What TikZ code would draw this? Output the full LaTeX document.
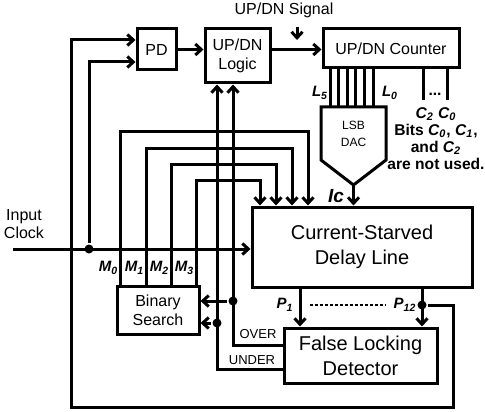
\documentclass[tikz,border=0pt]{standalone}
\usepackage{fontspec}
\setmainfont{Liberation Sans}
\usetikzlibrary{arrows.meta,positioning,calc}

\begin{document}
\begin{tikzpicture}[
    x=0.5pt, y=-0.5pt,
    >={Straight Barb[length=3pt,width=5.5pt]},
    line width=1.5pt,
    block/.style={rectangle, draw, line width=1.5pt, align=center, inner sep=0pt, font=\fontsize{8}{9.5}\selectfont},
    bigblock/.style={block, font=\fontsize{10}{12.5}\selectfont},
    wire/.style={line width=1.5pt},
    arrow/.style={->, line width=1.5pt},
    dot/.style={circle, fill, inner sep=0pt, minimum size=4.5pt},
    lab/.style={font=\fontsize{8}{9}\selectfont, align=center, inner sep=0pt},
    tap/.style={font=\fontsize{7.5}{9}\selectfont\bfseries\itshape, inner sep=0pt},
    small/.style={font=\fontsize{6.5}{7.5}\selectfont, inner sep=0pt},
    note/.style={font=\fontsize{7.8}{8.5}\selectfont\bfseries, align=center, inner sep=0pt},
]
\useasboundingbox (0,0) rectangle (485,411);

\node[block, minimum width=19.5pt, minimum height=20.5pt] (pd) at (156.5,49.5) {PD};
\node[block, minimum width=32.5pt, minimum height=27pt] (logic) at (237.5,56) {UP/DN\\Logic};
\node[block, minimum width=68pt, minimum height=19.5pt] (counter) at (391,48.5) {UP/DN Counter};
\node[bigblock, minimum width=110pt, minimum height=40pt] (delay) at (362,247) {Current-Starved\\Delay Line};
\node[block, minimum width=41pt, minimum height=24pt] (search) at (158,310) {Binary\\Search};
\node[bigblock, minimum width=76.5pt, minimum height=27.5pt] (fld) at (360.5,355.5) {False Locking\\Detector};

\node[lab, font=\fontsize{6}{8.5}\selectfont, outer sep=0pt, minimum width=32.5pt, minimum height=26.5pt] (dac) at (353.5,133.5) {LSB\\DAC};
\coordinate (dactip) at ($(dac.south)+(0,25)$);
\draw[wire] (dac.north west) -- (dac.south west) -- (dactip) -- (dac.south east) -- (dac.north east) -- cycle;

\node[lab] (signal) at (284,10) {UP/DN Signal};
\coordinate (sigarrow) at (297,27);
\draw[arrow] (sigarrow) -- ++(0,13);

\node[lab] (clklab) at (24,224) {Input\\Clock};
\coordinate (clkin) at (13,249);
\draw[arrow] (clkin) -- (clkin -| delay.west);
\node[dot] (clkdot) at (89,249) {};
\draw[arrow] (clkdot) |- ($(pd.west)+(0,12.5)$);

\draw[arrow] (pd.east) -- (pd.east -| logic.west);
\draw[arrow] (pd.east -| logic.east) -- (pd.east -| counter.west);

\foreach \x in {330,338.6,347.2,355.8,364.4,373}
    \draw[wire] (\x,0 |- counter.south) -- (\x,0 |- dac.north);
\node[tap] at (320,93) {L\textsubscript{5}};
\node[tap] at (390,93) {L\textsubscript{0}};

\coordinate (c2end) at (423,100);
\coordinate (c0end) at (447,100);
\draw[wire] (c2end |- counter.south) -- (c2end);
\draw[wire] (c0end |- counter.south) -- (c0end);
\node[note] at (435,94) {...};
\node[note] (unused) at (436,139) {\textit{C\textsubscript{2}} \textit{C\textsubscript{0}}\\Bits \textit{C\textsubscript{0}}, \textit{C\textsubscript{1}},\\and \textit{C\textsubscript{2}}\\are not used.};

\draw[arrow] (dactip) -- (dactip |- delay.north);
\node[tap, font=\fontsize{9.5}{10}\selectfont\bfseries\itshape] at (336,196) {Ic};

\foreach \x/\y/\t [count=\i from 0] in {120/132/308, 146/148/292, 171/164/276, 196/180/260} {
    \draw[arrow] (\x,0 |- search.north) |- (\t,\y) -- (\t,0 |- delay.north);
    \node[tap] at (\x-11.5,268) {M\textsubscript{\i}};
}

\node[dot] (p12dot) at (422,305) {};
\draw[arrow] (300,0 |- delay.south) -- (300,0 |- fld.north);
\draw[arrow] (p12dot |- delay.south) -- (p12dot |- fld.north);
\node[tap] (p1) at (285,305) {P\textsubscript{1}};
\node[tap] (p12) at (405,305) {P\textsubscript{12}};
\draw[line width=0.7pt, dash pattern=on 1.5pt off 1pt] ([xshift=7.5pt]p1.east) -- ([xshift=-3.5pt]p12.west);

\coordinate (loopr) at (453,407);
\coordinate (loopl) at (71,407);
\draw[arrow] (p12dot) -| (loopr) -- (loopl) |- ($(pd.west)+(0,-9.5)$);

\draw[arrow] ($(fld.west)+(0,-10.5)$) -| (233,0 |- logic.south);
\draw[arrow] ($(fld.west)+(0,13.5)$) -| (217,0 |- logic.south);
\node[dot] (overdot) at (233,301) {};
\node[dot] (underdot) at (217,323) {};
\draw[arrow] (overdot) -- (overdot -| search.east);
\draw[arrow] (underdot) -- (underdot -| search.east);
\node[small] at (258,334) {OVER};
\node[small] at (252,360) {UNDER};
\end{tikzpicture}
\end{document}
